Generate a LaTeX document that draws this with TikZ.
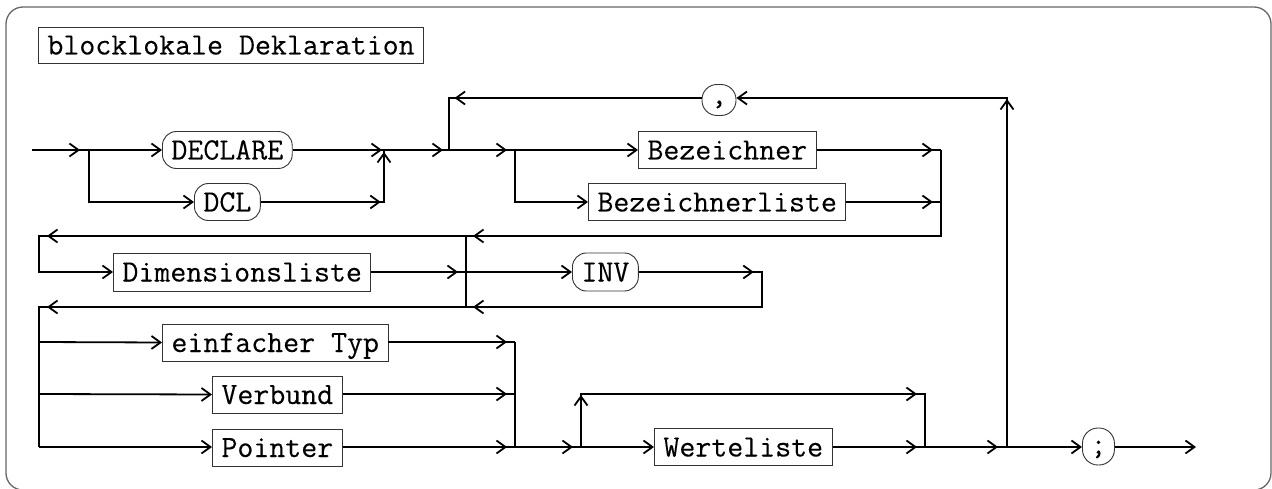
\documentclass[tikz,border=0pt]{standalone}
\usepackage{fontspec}
\setmonofont{Latin Modern Mono}[FakeBold=0.2]
\usetikzlibrary{arrows.meta,decorations.markings}
\begin{document}
\begin{tikzpicture}[
  x=1pt,y=-1pt,
  sb/.tip={Straight Barb[length=9pt,width=13pt]},
  ln/.style={line width=1.8pt,black},
  m/.style={postaction={decorate,decoration={markings,mark=at position #1 with {\arrow[line width=1.8pt]{sb}}}}},
  term/.style={draw=black!80,line width=0.9pt,rounded corners=14pt,inner xsep=9pt,inner ysep=0pt,
    minimum height=37pt,text height=19pt,text depth=0pt,font=\fontsize{31}{36}\selectfont\ttfamily},
  nterm/.style={term,rounded corners=0pt},
  frame/.style={draw=black!60,line width=1.3pt,rounded corners=17pt}
]
\useasboundingbox (0,0) rectangle (1272,489);
\draw[frame] (6,7) rectangle (1271,490);

% nodes
\node[nterm,anchor=west,minimum height=36pt] (title) at (38,45) {blocklokale Deklaration};
\node[term,anchor=west] (declare) at (162,150) {DECLARE};
\node[term,anchor=west] (dcl) at (194,202) {DCL};
\node[term,minimum height=31pt,minimum width=34pt,rounded corners=15pt,inner xsep=0pt,text height=8pt] (comma) at (719,100) {,};
\node[nterm,anchor=west] (bez) at (638,150) {Bezeichner};
\node[nterm,anchor=west] (bezl) at (588,202) {Bezeichnerliste};
\node[nterm,anchor=west,minimum height=38pt] (dim) at (113,272) {Dimensionsliste};
\node[term,anchor=west,minimum height=38pt] (inv) at (572,272) {INV};
\node[nterm,anchor=west] (einf) at (162,342.5) {einfacher Typ};
\node[nterm,anchor=west] (verb) at (212,394.5) {Verbund};
\node[nterm,anchor=west] (ptr) at (212,447.5) {Pointer};
\node[nterm,anchor=west] (wl) at (654,447) {Werteliste};
\node[term,anchor=west,minimum width=32pt,inner xsep=0pt,rounded corners=15.5pt,text height=15pt] (semi) at (1082,446.5) {;};

% coordinates
\coordinate (in) at (32,150);
\coordinate (j1) at (89,150);
\coordinate (j2) at (384,150);
\coordinate (j2b) at (384,202);
\coordinate (j3) at (449,150);
\coordinate (j3t) at (449,98);
\coordinate (j4) at (515,150);
\coordinate (j5t) at (941,150);
\coordinate (j5b) at (941,202);
\coordinate (j5r) at (941,236);
\coordinate (k1) at (466,236);
\coordinate (k2) at (466,272);
\coordinate (k3) at (466,307);
\coordinate (l1) at (39,236);
\coordinate (l2) at (39,272);
\coordinate (l3) at (39,307);
\coordinate (l4) at (39,342);
\coordinate (l5) at (39,394);
\coordinate (l6) at (39,447);
\coordinate (i1) at (762,272);
\coordinate (i2) at (762,307);
\coordinate (t1) at (515,342);
\coordinate (t2) at (515,394);
\coordinate (t3) at (515,447);
\coordinate (w1) at (581,447);
\coordinate (w2) at (581,394);
\coordinate (w3) at (925,394);
\coordinate (w4) at (925,447);
\coordinate (e1) at (1007,447);
\coordinate (e1t) at (1007,98);
\coordinate (out) at (1196,447);

% connectors
\draw[ln,m=-9pt] (in) -- (j1);
\draw[ln,-{sb}] (j1) -- (declare.west);
\draw[ln,-{sb}] (j1) |- (dcl.west);
\draw[ln,m=-2pt] (declare.east) -- (j2);
\draw[ln,m=120pt,m=-2pt] (dcl.east) -- (j2b) -- (j2);
\draw[ln,m=-6pt] (j2) -- (j3);
\draw[ln,m=348pt,-{sb}] (e1) -- (e1t) -- (comma.east |- e1t);
\draw[ln,m=247pt] (comma.west |- j3t) -- (j3t) -- (j3);
\draw[ln,m=-8pt] (j3) -- (j4);
\draw[ln,-{sb}] (j4) -- (bez.west);
\draw[ln,-{sb}] (j4) |- (bezl.west);
\draw[ln,m=-8pt] (bez.east) -- (j5t);
\draw[ln,m=-8pt] (bezl.east) -- (j5b);
\draw[ln,m=-7pt] (j5t) -- (j5r) -- (k1);
\draw[ln,m=419pt,-{sb}] (k1) -- (l1) -- (l2) -- (dim.west);
\draw[ln,m=-8pt] (dim.east) -- (k2);
\draw[ln,-{sb}] (k2) -- (inv.west);
\draw[ln,m=115pt,m=-7pt] (inv.east) -- (i1) -- (i2) -- (k3);
\draw[ln] (k1) -- (k3);
\draw[ln,m=419pt] (k3) -- (l3) -- (l6);
\draw[ln,-{sb}] (l4) -- (einf.west);
\draw[ln,-{sb}] (l5) -- (verb.west);
\draw[ln,-{sb}] (l6) -- (ptr.west |- l6);
\draw[ln,m=-8pt] (einf.east |- t1) -- (t1);
\draw[ln,m=-8pt] (verb.east |- t2) -- (t2);
\draw[ln,m=-8pt] (ptr.east |- t3) -- (t3);
\draw[ln] (t1) -- (t3);
\draw[ln,m=-8pt] (t3) -- (w1);
\draw[ln,m=52pt,m=389pt] (w1) -- (w2) -- (w3) -- (w4);
\draw[ln,-{sb}] (w1) -- (wl.west);
\draw[ln,m=-8pt] (wl.east) -- (w4);
\draw[ln,m=-9pt] (w4) -- (e1);
\draw[ln,-{sb}] (e1) -- (semi.west |- e1);
\draw[ln,-{sb}] (semi.east |- e1) -- (out);
\end{tikzpicture}
\end{document}
